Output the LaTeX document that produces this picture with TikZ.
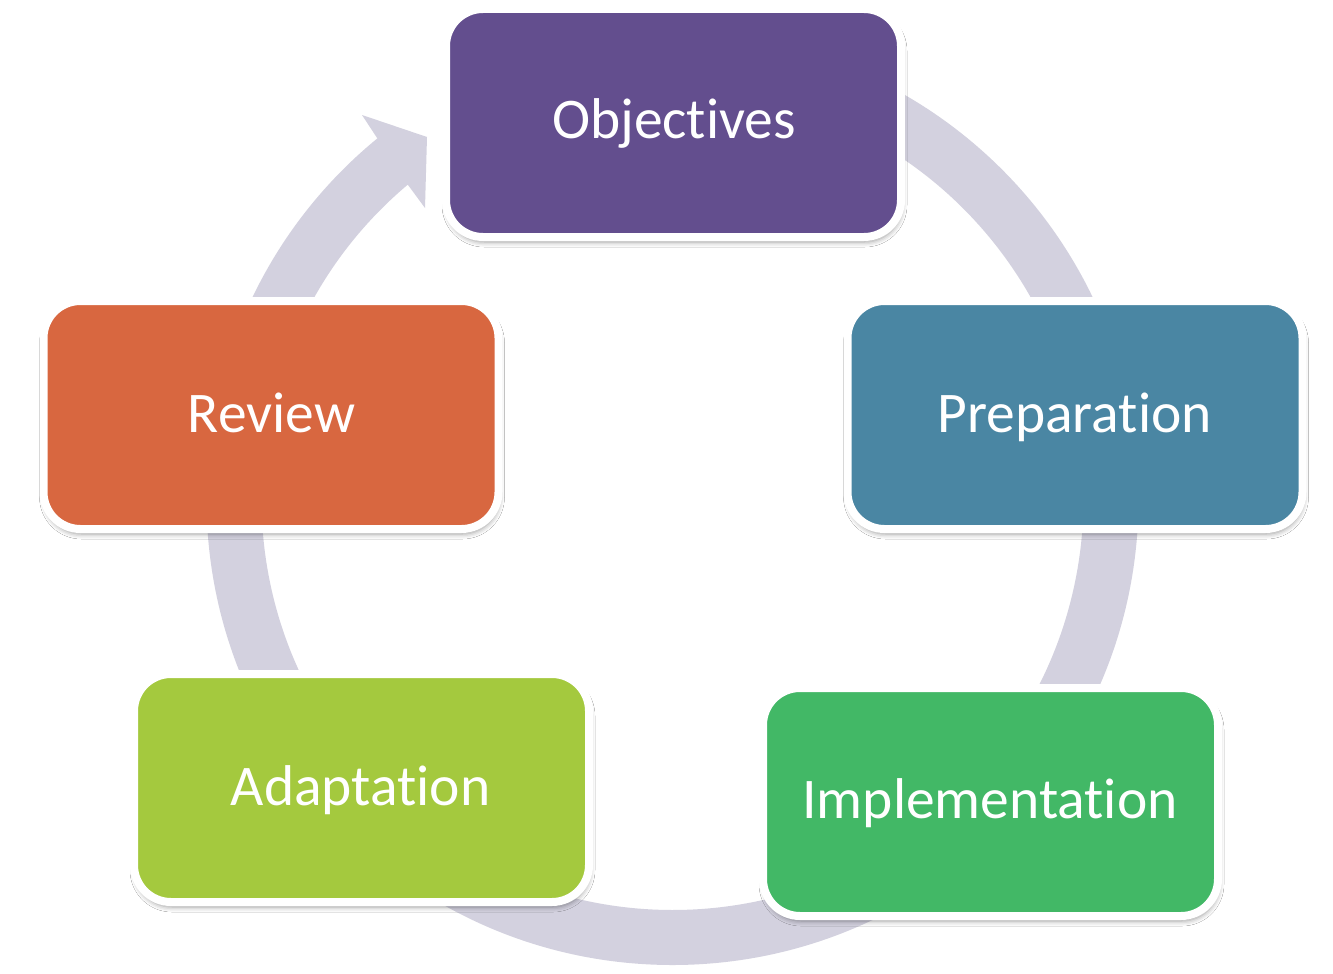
\documentclass[tikz,border=0pt]{standalone}
\usepackage{fontspec}
\setmainfont{Carlito}[Ligatures={NoCommon}]
\usetikzlibrary{shadows.blur}
\definecolor{ringc}{HTML}{D3D1DF}
\definecolor{cobj}{HTML}{634E8E}
\definecolor{cprep}{HTML}{4A86A3}
\definecolor{cimpl}{HTML}{42B866}
\definecolor{cadap}{HTML}{A4C93E}
\definecolor{crev}{HTML}{D86740}
\begin{document}
\begin{tikzpicture}[x=1pt,y=1pt,
  stagebox/.style={draw=white, line width=8pt, rounded corners=37pt,
    minimum width=455pt, minimum height=228pt, inner sep=0pt,
    blur shadow={shadow xshift=1pt, shadow yshift=-5pt, shadow blur radius=5pt, shadow opacity=40}},
  stagetext/.style={anchor=base, text=white, font=\fontsize{57.5}{69}\selectfont, inner sep=0pt}]
\useasboundingbox (0,0) rectangle (1333,-974);
\fill[white] (0,0) rectangle (1333,-974);
\coordinate (c) at (672.5,-499);
% ring with arrowhead
\fill[ringc] (c) ++(90:466) arc[start angle=90, end angle=-230.7, radius=466]
  coordinate (oend) -- (362,-115) coordinate (barbO) -- (427,-137) coordinate (tip)
  -- (425,-208) coordinate (barbI) -- ($(c)+(-229.9:411)$) arc[start angle=-229.9, end angle=90, radius=411] -- cycle;
% boxes
\node[stagebox, fill=cobj]  (obj)  at (673.5,-123) {};
\node[stagebox, fill=cprep] (prep) at (1075,-415) {};
\node[stagebox, fill=cimpl] (impl) at (990.5,-802) {};
\node[stagebox, fill=cadap] (adap) at (361.5,-788) {};
\node[stagebox, fill=crev]  (rev)  at (271,-415) {};
% labels
\node[stagetext] (objT)  at (674,-138) {Objectives};
\node[stagetext] (prepT) at (1074.5,-432) {Preparation};
\node[stagetext] (implT) at (990,-818) {Implementation};
\node[stagetext] (adapT) at (360.5,-805) {Adaptation};
\node[stagetext] (revT)  at (271.5,-432) {Review};
\end{tikzpicture}
\end{document}
